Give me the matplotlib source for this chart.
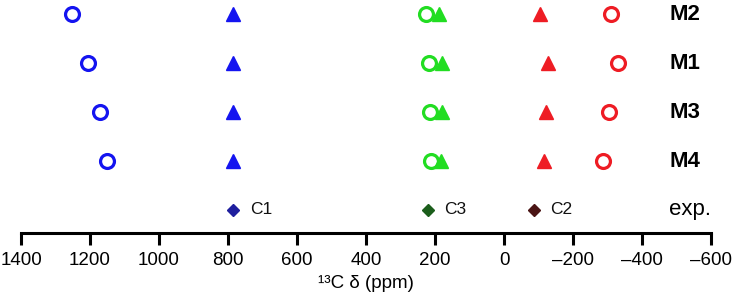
import matplotlib
matplotlib.use("Agg")
import matplotlib.pyplot as plt

plt.rcParams['font.family'] = ['Liberation Sans', 'DejaVu Sans']

# Data (13C shift in ppm)
models = ["M2", "M1", "M3", "M4"]
c1_circle = [1253, 1206, 1172, 1150]
c1_tri = [785, 785, 785, 785]
c3_circle = [226, 217, 215, 213]
c3_tri = [188, 181, 179, 183]
c2_tri = [-104, -127, -122, -117]
c2_circle = [-310, -329, -304, -286]
exp_labels = ["C1", "C3", "C2"]
exp_values = [785, 221, -86]
exp_colors = ["#1f1f9e", "#1b5e1b", "#4a1414"]

xticks = [1400, 1200, 1000, 800, 600, 400, 200, 0, -200, -400, -600]

blue = "#1414f0"
green = "#22dd22"
red = "#ee1c24"

fig = plt.figure(figsize=(7.36, 3.04), dpi=100)
ax = fig.add_axes([21/736, 71/304, 690/736, 233/304])

ypos = [4, 3, 2, 1]
ax.plot(c1_circle, ypos, 'o', ms=10, mfc='none', mec=blue, mew=2.3, ls='none', clip_on=False)
ax.plot(c1_tri, ypos, '^', ms=10, color=blue, ls='none', clip_on=False)
ax.plot(c3_circle, ypos, 'o', ms=10, mfc='none', mec=green, mew=2.3, ls='none', clip_on=False)
ax.plot(c3_tri, ypos, '^', ms=10, color=green, ls='none', clip_on=False)
ax.plot(c2_tri, ypos, '^', ms=10, color=red, ls='none', clip_on=False)
ax.plot(c2_circle, ypos, 'o', ms=10, mfc='none', mec=red, mew=2.3, ls='none', clip_on=False)

for lab, v, c in zip(exp_labels, exp_values, exp_colors):
    ax.plot([v], [0], 'D', ms=6.5, color=c, clip_on=False)
    ax.annotate(lab, (v, 0), xytext=(12, 0), textcoords='offset points',
                va='center', ha='left', fontsize=12.5, color='#111111')

for m, y in zip(models, ypos):
    ax.annotate(m, (1, y), xycoords=('axes fraction', 'data'), xytext=(-30, 0),
                textcoords='offset points', va='center', ha='left',
                fontsize=16, fontweight='bold')
ax.annotate("exp.", (1, 0), xycoords=('axes fraction', 'data'), xytext=(-30, 0),
            textcoords='offset points', va='center', ha='left', fontsize=16)

ax.set_xlim(1400, -600)
ax.set_ylim(-0.47, 4.29)
ax.set_xticks(xticks)
ax.set_xticklabels([f"{t}".replace('-', '\u2013') for t in xticks], fontsize=13.5)
ax.set_yticks([])
for s in ['top', 'left', 'right']:
    ax.spines[s].set_visible(False)
ax.spines['bottom'].set_linewidth(2.2)
ax.tick_params(axis='x', direction='out', length=8.5, width=2.2, pad=5.5)
ax.set_xlabel("\u00b9\u00b3C \u03b4 (ppm)", fontsize=13.5, labelpad=4)

fig.savefig("out.png", dpi=100)
